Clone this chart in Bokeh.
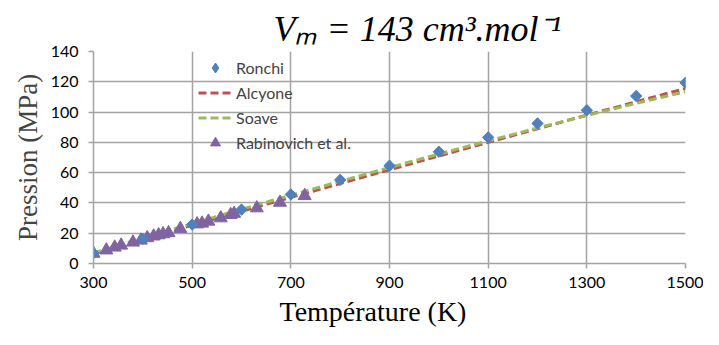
from bokeh.plotting import figure
from bokeh.models import Range1d, FixedTicker, Title, Legend, LegendItem
from bokeh.embed import file_html
from bokeh.resources import INLINE
import math

# Data
ronchi_T = [300, 400, 500, 600, 700, 800, 900, 1000, 1100, 1200, 1300, 1400, 1500]
ronchi_P = [6.8, 16.3, 25.7, 35.6, 45.6, 55.2, 64.6, 73.8, 83.3, 92.5, 101.2, 110.6, 119.4]

alcyone_T = [300, 400, 500, 600, 700, 800, 900, 1000, 1100, 1200, 1300, 1400, 1500]
alcyone_P = [6.5, 16.0, 25.2, 34.5, 43.7, 52.8, 61.9, 71.0, 80.0, 89.0, 98.0, 106.8, 115.6]

soave_T = [300, 400, 500, 600, 700, 800, 900, 1000, 1100, 1200, 1300, 1400, 1500]
soave_P = [7.0, 16.8, 26.3, 35.8, 45.1, 54.3, 63.4, 72.3, 81.0, 89.5, 97.8, 105.8, 113.5]

rabino_T = [300, 326, 343, 356, 380, 396, 409, 422, 432, 441, 452, 476,
            510, 520, 533, 558, 578, 585, 631, 678, 728]
rabino_P = [6.6, 8.8, 10.7, 12.0, 14.0, 15.3, 16.9, 18.0, 18.8, 19.5, 20.2, 23.0,
            26.0, 26.5, 27.8, 30.0, 32.2, 33.0, 36.6, 40.3, 44.7]

x_ticks = [300, 500, 700, 900, 1100, 1300, 1500]
y_ticks = [0, 20, 40, 60, 80, 100, 120, 140]

title_text = "Vₘ = 143 cm³.mol⁻¹"
xlabel_text = "Température (K)"
ylabel_text = "Pression (MPa)"

GRID = "#a3a3a3"
BLUE, RED, GREEN, PURPLE = "#4f81bd", "#c0504d", "#9bbb59", "#8064a2"
W, H = 703, 329
left, right, top, bottom = 93, 18, 51, 65

p = figure(width=W, height=H, output_backend="svg", toolbar_location=None,
           x_range=Range1d(300, 1500), y_range=Range1d(0, 140),
           min_border_left=left, min_border_right=right,
           min_border_top=top, min_border_bottom=bottom)
p.outline_line_color = None
p.background_fill_color = "white"
p.border_fill_color = "white"

for ax in (p.xaxis[0], p.yaxis[0]):
    ax.axis_line_color = GRID
    ax.axis_line_width = 1.5
    ax.major_tick_line_color = GRID
    ax.major_tick_line_width = 1.5
    ax.major_tick_in = 0
    ax.major_tick_out = 5
    ax.minor_tick_line_color = None
    ax.major_label_text_font = "Lato"
    ax.major_label_text_font_size = "16px"
    ax.major_label_text_color = "black"

p.xaxis.ticker = FixedTicker(ticks=x_ticks)
p.yaxis.ticker = FixedTicker(ticks=y_ticks)
p.xaxis.major_label_standoff = 8
p.yaxis.major_label_standoff = 10

p.yaxis.axis_label = ylabel_text
p.yaxis.axis_label_text_font = "Liberation Serif"
p.yaxis.axis_label_text_font_style = "normal"
p.yaxis.axis_label_text_font_size = "27px"
p.yaxis.axis_label_standoff = 5

for g in (p.xgrid[0], p.ygrid[0]):
    g.grid_line_color = GRID
    g.grid_line_width = 1.5
p.xgrid.ticker = FixedTicker(ticks=x_ticks)
p.ygrid.ticker = FixedTicker(ticks=y_ticks)

r_alc = p.line(alcyone_T, alcyone_P, line_color=RED, line_width=3, line_dash="8 4")
r_soa = p.line(soave_T, soave_P, line_color=GREEN, line_width=3, line_dash="8 4")
r_rab = p.scatter(rabino_T, rabino_P, marker="triangle", size=13,
                  fill_color=PURPLE, line_color=PURPLE)
r_ron = p.scatter(ronchi_T, ronchi_P, marker="square", size=8, angle=math.pi / 4,
                  fill_color=BLUE, line_color=BLUE)
# same points as a diamond (fits inside the rotated square); gives the legend swatch
r_ron_d = p.scatter(ronchi_T, ronchi_P, marker="diamond", size=10,
                    fill_color=BLUE, line_color=BLUE)

legend = Legend(items=[
    LegendItem(label="Ronchi", renderers=[r_ron_d]),
    LegendItem(label="Alcyone", renderers=[r_alc]),
    LegendItem(label="Soave", renderers=[r_soa]),
    LegendItem(label="Rabinovich et al.", renderers=[r_rab]),
], location=(105, 108), orientation="vertical")
legend.background_fill_alpha = 0
legend.border_line_alpha = 0
legend.padding = 0
legend.margin = 0
legend.spacing = 0
legend.glyph_width = 34
legend.glyph_height = 25
legend.label_height = 20
legend.label_standoff = 4
legend.label_text_font = "Lato"
legend.label_text_font_size = "16px"
p.add_layout(legend)

title = Title(text=title_text, align="left", offset=180,
              text_font="Liberation Serif", text_font_style="italic",
              text_font_size="36px", text_color="black", standoff=6)
p.add_layout(title, "above")

xlab = Title(text=xlabel_text, align="left", offset=186,
             text_font="Liberation Serif", text_font_style="normal",
             text_font_size="28px", text_color="black", standoff=6)
p.add_layout(xlab, "below")

open("out.html", "w").write(file_html(p, INLINE))
